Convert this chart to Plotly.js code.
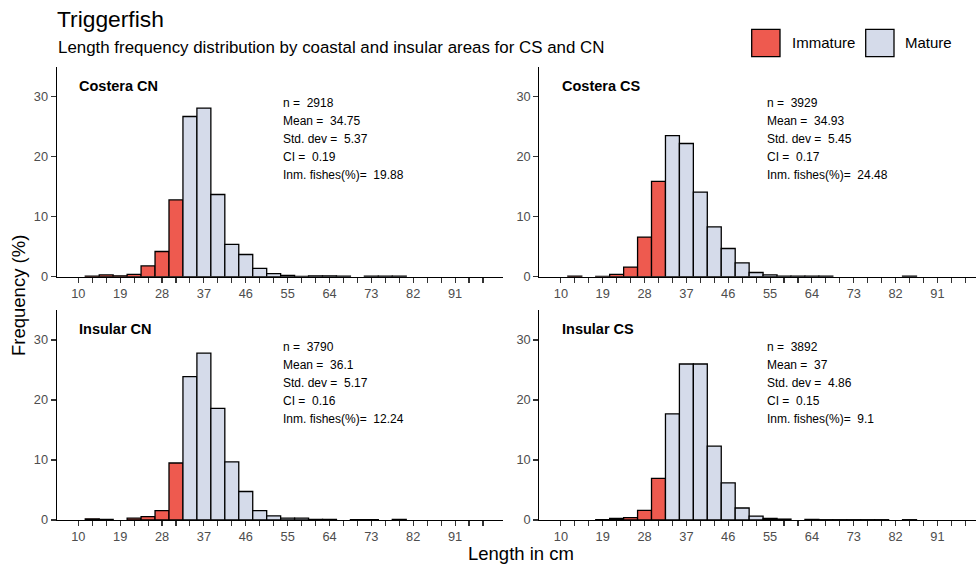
<!DOCTYPE html>
<html>
<head>
<meta charset="utf-8">
<script src="https://cdn.plot.ly/plotly-3.0.1.min.js"></script>
<style>html,body{margin:0;padding:0;background:#fff;}#chart{width:976px;height:568px;}</style>
</head>
<body>
<div id="chart"></div>
<script>
// ---- data ----
const bins = [10,13,16,19,22,25,28,31,34,37,40,43,46,49,52,55,58,61,64,67,70,73,76,79,82,85,88,91,94,97];
const xTickLabels = [10,19,28,37,46,55,64,73,82,91];
const yTickVals = [0,10,20,30];
const N = null;

const panelNames = ['Costera CN','Costera CS','Insular CN','Insular CS'];

const costeraCN_imm = [N,0.1,0.3,0.15,0.4,1.8,4.2,12.8, N,N,N,N,N,N,N,N,N,N,N,N,N,N,N,N,N,N,N,N,N,N];
const costeraCN_mat = [N,N,N,N,N,N,N,N, 26.7,28.1,13.7,5.4,3.7,1.4,0.5,0.2,0.05,0.15,0.15,0.1,N,0.1,0.1,0.1,N,N,N,N,N,N];

const costeraCS_imm = [N,0.1,N,0.05,0.4,1.6,6.6,15.9, N,N,N,N,N,N,N,N,N,N,N,N,N,N,N,N,N,N,N,N,N,N];
const costeraCS_mat = [N,N,N,N,N,N,N,N, 23.5,22.2,14.1,8.3,4.7,2.3,0.7,0.3,0.1,0.1,0.1,0.1,N,N,N,N,N,0.1,N,N,N,N];

const insularCN_imm = [N,0.2,0.1,N,0.3,0.55,1.55,9.5, N,N,N,N,N,N,N,N,N,N,N,N,N,N,N,N,N,N,N,N,N,N];
const insularCN_mat = [N,N,N,N,N,N,N,N, 23.9,27.8,18.6,9.7,4.75,1.55,0.7,0.3,0.3,0.1,0.1,N,0.05,0.05,N,0.1,N,N,N,N,N,N];

const insularCS_imm = [N,N,N,0.05,0.25,0.4,1.6,6.95, N,N,N,N,N,N,N,N,N,N,N,N,N,N,N,N,N,N,N,N,N,N];
const insularCS_mat = [N,N,N,N,N,N,N,N, 17.7,26.0,26.0,12.3,6.2,2.0,0.65,0.25,0.15,N,0.1,0.05,0.05,0.05,0.05,0.05,N,0.05,N,N,N,N];

const immature = [costeraCN_imm, costeraCS_imm, insularCN_imm, insularCS_imm];
const mature = [costeraCN_mat, costeraCS_mat, insularCN_mat, insularCS_mat];

const nVals = ['2918','3929','3790','3892'];
const meanVals = ['34.75','34.93','36.1','37'];
const sdVals = ['5.37','5.45','5.17','4.86'];
const ciVals = ['0.19','0.17','0.16','0.15'];
const immPct = ['19.88','24.48','12.24','9.1'];

// ---- styling ----
const W = 976, H = 568;
const FONT = '"Liberation Sans", Arial, Helvetica, sans-serif';
const RED = '#EE5A4F';
const BLUE = '#D5DBEA';
const axisIds = ['', '2', '3', '4'];
const px = v => v / W;
const py = v => 1 - v / H;

const xDomains = [[px(56.7), px(503)], [px(539.3), 1], [px(56.7), px(503)], [px(539.3), 1]];
const yDomains = [[py(276.7), py(66.7)], [py(276.7), py(66.7)], [py(520), py(310)], [py(520), py(310)]];
const xRanges = [[5.36, 101.3], [5.36, 99.3], [5.36, 101.3], [5.36, 99.3]];

const traces = [];
const layout = {
  width: W, height: H,
  margin: {l: 0, r: 0, t: 0, b: 0},
  paper_bgcolor: '#fff', plot_bgcolor: '#fff',
  font: {family: FONT, color: '#000'},
  showlegend: false,
  barmode: 'overlay',
  bargap: 0,
  title: {text: 'Triggerfish', x: px(57), xanchor: 'left', y: py(19), yanchor: 'middle',
          xref: 'paper', yref: 'paper', font: {size: 22.8, color: '#000', family: FONT}},
  annotations: [],
  shapes: []
};

for (let p = 0; p < 4; p++) {
  const id = axisIds[p];
  const xa = 'x' + id, ya = 'y' + id;
  traces.push({
    type: 'bar', x: bins, y: immature[p], width: 3, xaxis: xa, yaxis: ya,
    name: 'Immature', marker: {color: RED, line: {color: '#000', width: 1.3}},
    hoverinfo: 'skip'
  });
  traces.push({
    type: 'bar', x: bins, y: mature[p], width: 3, xaxis: xa, yaxis: ya,
    name: 'Mature', marker: {color: BLUE, line: {color: '#000', width: 1.3}},
    hoverinfo: 'skip'
  });
  const tickText = bins.map(b => xTickLabels.includes(b) ? String(b) : '');
  layout['xaxis' + id] = {
    domain: xDomains[p], range: xRanges[p], anchor: ya, automargin: false,
    showgrid: false, zeroline: false, showline: true, linecolor: '#000', linewidth: 1.1,
    ticks: 'outside', ticklen: 5, tickwidth: 1.1, tickcolor: '#333',
    tickmode: 'array', tickvals: bins, ticktext: tickText,
    tickfont: {size: 12.8, color: '#4D4D4D', family: FONT}
  };
  layout['yaxis' + id] = {
    domain: yDomains[p], range: [0, 35], anchor: xa, automargin: false,
    showgrid: false, zeroline: false, showline: true, linecolor: '#000', linewidth: 1.1,
    ticks: 'outside', ticklen: 5, tickwidth: 1.1, tickcolor: '#333',
    tickmode: 'array', tickvals: yTickVals,
    tickfont: {size: 12.8, color: '#4D4D4D', family: FONT}
  };
  // panel label
  layout.annotations.push({
    xref: xa, yref: ya, x: 10, y: 31.8, xanchor: 'left', yanchor: 'middle',
    text: '<b>' + panelNames[p] + '</b>', showarrow: false, borderpad: 0,
    font: {size: 14.5, color: '#000', family: FONT}
  });
  const statX = (p % 2 === 0) ? 53.8 : 54.2;
  const sp = '\u00A0';
  const lines = [
    'n =' + sp + sp + nVals[p],
    'Mean =' + sp + sp + meanVals[p],
    'Std. dev =' + sp + sp + sdVals[p],
    'CI =' + sp + sp + ciVals[p],
    'Inm. fishes(%)=' + sp + sp + immPct[p]
  ];
  lines.forEach((t, i) => {
    layout.annotations.push({
      xref: xa, yref: ya, x: statX, y: 28.9 - 3 * i, xanchor: 'left', yanchor: 'middle',
      text: t, showarrow: false, borderpad: 0,
      font: {size: 12, color: '#000', family: FONT}
    });
  });
}

// subtitle
layout.annotations.push({
  xref: 'paper', yref: 'paper', x: px(57), y: py(47.5), xanchor: 'left', yanchor: 'middle',
  text: 'Length frequency distribution by coastal and insular areas for CS and CN',
  showarrow: false, borderpad: 0, font: {size: 16.9, color: '#000', family: FONT}
});
// axis titles
layout.annotations.push({
  xref: 'paper', yref: 'paper', x: px(521), y: py(553), xanchor: 'center', yanchor: 'middle',
  text: 'Length in cm', showarrow: false, borderpad: 0, font: {size: 18.5, color: '#000', family: FONT}
});
layout.annotations.push({
  xref: 'paper', yref: 'paper', x: px(18), y: py(296), xanchor: 'center', yanchor: 'middle',
  text: 'Frequency (%)', textangle: -90, showarrow: false, borderpad: 0,
  font: {size: 18.5, color: '#000', family: FONT}
});
// legend (keys + labels)
const legendItems = [
  {label: 'Immature', color: RED, x0: 751.7, tx: 790.5},
  {label: 'Mature', color: BLUE, x0: 865.7, tx: 904}
];
legendItems.forEach(it => {
  layout.shapes.push({
    type: 'rect', xref: 'paper', yref: 'paper',
    x0: px(it.x0), x1: px(it.x0 + 28.3), y0: py(56.7), y1: py(29.3),
    fillcolor: it.color, line: {color: '#000', width: 1.3}
  });
  layout.annotations.push({
    xref: 'paper', yref: 'paper', x: px(it.tx), y: py(43), xanchor: 'left', yanchor: 'middle',
    text: it.label, showarrow: false, borderpad: 0, font: {size: 15, color: '#000', family: FONT}
  });
});

Plotly.newPlot('chart', traces, layout, {staticPlot: true, displayModeBar: false});
</script>
</body>
</html>
